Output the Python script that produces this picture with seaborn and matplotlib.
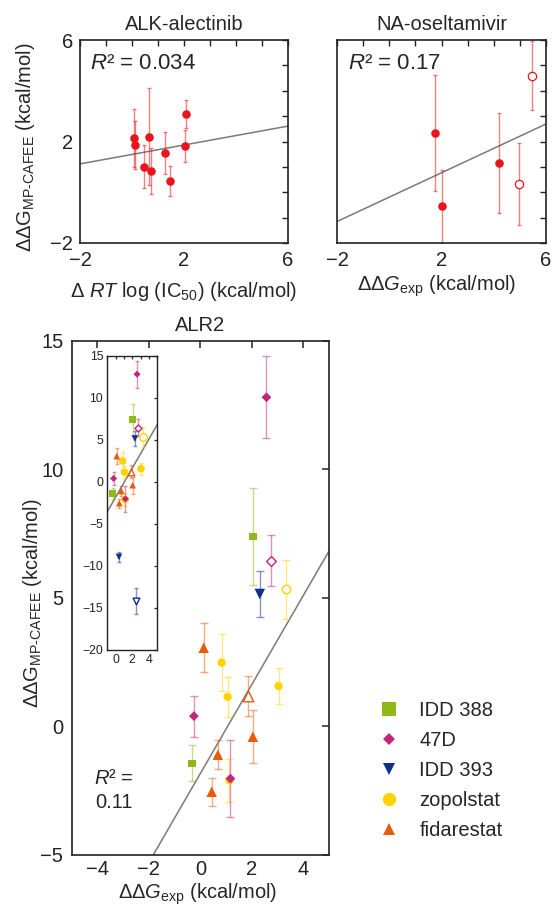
import matplotlib
matplotlib.use('Agg')
import matplotlib.pyplot as plt
from matplotlib.lines import Line2D
from matplotlib.ticker import MultipleLocator, FixedLocator
import numpy as np
import pandas as pd
import seaborn as sns

sns.set_style('white')
plt.rcParams['font.family'] = ['Liberation Sans', 'DejaVu Sans']
plt.rcParams['mathtext.fontset'] = 'custom'
plt.rcParams['mathtext.rm'] = 'Liberation Sans'
plt.rcParams['mathtext.it'] = 'Liberation Sans:italic'
plt.rcParams['mathtext.bf'] = 'Liberation Sans:bold'
plt.rcParams['axes.unicode_minus'] = True

# ── Data: ALK-alectinib ─────────────────────────────────────────────
alk_x = [0.08, 0.13, 0.47, 0.64, 0.72, 1.26, 1.46, 2.04, 2.06]
alk_y = [2.15, 1.87, 1.01, 2.19, 0.84, 1.55, 0.44, 1.83, 3.07]
alk_err = [1.15, 0.95, 0.85, 1.9, 0.9, 0.83, 0.6, 0.62, 0.55]
alk_fit = (0.186, 1.49)   # slope, intercept
alk_r2 = '0.034'

# ── Data: NA-oseltamivir ────────────────────────────────────────────
na_x = [1.75, 2.03, 4.21, 4.96, 5.49]
na_y = [2.33, -0.56, 1.15, 0.32, 4.6]
na_err = [2.28, 1.45, 1.97, 1.62, 1.37]
na_open = [False, False, False, True, True]
na_fit = (0.479, -0.19)
na_r2 = '0.17'

top_ticks = [-2, 2, 6]

# ── Data: ALR2 ──────────────────────────────────────────────────────
alr2_compound = ['IDD 388', 'IDD 388',
                 'IDD 393', 'IDD 393', 'IDD 393',
                 'zopolstat', 'zopolstat', 'zopolstat', 'zopolstat', 'zopolstat',
                 'fidarestat', 'fidarestat', 'fidarestat', 'fidarestat', 'fidarestat',
                 '47D', '47D', '47D', '47D']
alr2_exp = [2.04, -0.33,
            2.31, 0.40, 2.41,
            0.83, 1.06, 3.04, 1.13, 3.31,
            0.13, 0.68, 0.44, 2.04, 1.86,
            2.57, -0.25, 1.17, 2.73]
alr2_calc = [7.39, -1.43,
             5.15, -8.93, -14.2,
             2.48, 1.15, 1.57, -2.1, 5.33,
             3.06, -1.10, -2.54, -0.40, 1.19,
             12.80, 0.40, -2.03, 6.45]
alr2_err = [1.9, 0.7,
            0.9, 0.6, 1.55,
            1.1, 0.78, 0.7, 0.83, 1.15,
            0.95, 0.57, 0.55, 1.02, 0.79,
            1.6, 0.8, 1.5, 1.0]
alr2_open = [False, False,
             False, False, True,
             False, False, False, False, True,
             False, False, False, False, True,
             False, False, False, True]
alr2_fit = (1.73, -1.83)
alr2_r2 = '0.11'

legend_order = ['IDD 388', '47D', 'IDD 393', 'zopolstat', 'fidarestat']
draw_order = ['IDD 388', 'IDD 393', 'zopolstat', 'fidarestat', '47D']

# ── Styles ──────────────────────────────────────────────────────────
RED = '#e8161c'
LINE = '#7a7a7a'
COLORS = {'IDD 388': '#8fb81a', '47D': '#c2267a', 'IDD 393': '#0f2f8c',
          'zopolstat': '#ffd200', 'fidarestat': '#e85a0c'}
MARKERS = {'IDD 388': 's', '47D': 'D', 'IDD 393': 'v',
           'zopolstat': 'o', 'fidarestat': '^'}
MAIN_MS = {'IDD 388': 5.3, '47D': 5.0, 'IDD 393': 7.6, 'zopolstat': 6.0, 'fidarestat': 7.6}
INSET_MS = {'IDD 388': 5.0, '47D': 3.6, 'IDD 393': 4.8, 'zopolstat': 5.5, 'fidarestat': 4.8}
LEG_MS = {'IDD 388': 9.6, '47D': 6.5, 'IDD 393': 9.0, 'zopolstat': 9.6, 'fidarestat': 9.0}
FS = 14.5

df = pd.DataFrame({'compound': alr2_compound, 'exp': alr2_exp, 'calc': alr2_calc,
                   'err': alr2_err, 'open': alr2_open})

fig = plt.figure(figsize=(5.56, 9.11), dpi=100)
W, H = 556, 911


def px_axes(x0, y0, x1, y1):
    return fig.add_axes([x0 / W, 1 - y1 / H, (x1 - x0) / W, (y1 - y0) / H])


ax_alk = px_axes(80, 40, 288, 243)
ax_na = px_axes(337.3, 40, 545.7, 243)
ax_main = px_axes(71.7, 340.7, 329, 855)
ax_in = px_axes(107.3, 355.7, 157.3, 650)


def frame(ax, lw=1.2):
    for s in ax.spines.values():
        s.set_visible(True)
        s.set_color('#222222')
        s.set_linewidth(lw)


# ── Top panels ──────────────────────────────────────────────────────
def top_panel(ax, x, y, err, open_flags, fit, r2, title):
    x = np.asarray(x); y = np.asarray(y); err = np.asarray(err)
    open_flags = np.asarray(open_flags)
    ax.errorbar(x, y, yerr=err, fmt='none', ecolor=RED, alpha=0.55,
                elinewidth=1.0, capsize=1.6, capthick=1.0, zorder=2)
    sns.scatterplot(x=x[~open_flags], y=y[~open_flags], color=RED, s=38,
                    linewidth=0, ax=ax, zorder=3)
    if open_flags.any():
        ax.scatter(x[open_flags], y[open_flags], s=36, facecolor='white',
                   edgecolor=RED, linewidth=0.9, zorder=3, clip_on=False)
    ax.axline((0, fit[1]), slope=fit[0], color=LINE, lw=1.1, zorder=1)
    ax.set_xlim(-2, 6)
    ax.set_ylim(-2, 6)
    ax.xaxis.set_major_locator(FixedLocator(top_ticks))
    ax.xaxis.set_minor_locator(MultipleLocator(1))
    ax.yaxis.set_major_locator(FixedLocator(top_ticks))
    ax.yaxis.set_minor_locator(MultipleLocator(1))
    ax.tick_params(which='both', direction='in', top=True, right=True,
                   length=4, width=1, colors='#222222', labelsize=FS)
    ax.tick_params(axis='x', pad=6)
    ax.tick_params(axis='y', pad=5)
    ax.set_title(title, fontsize=FS, pad=7)
    ax.text(0.05, 0.885, '$R$² = ' + r2, transform=ax.transAxes,
            fontsize=16, ha='left', va='center')
    frame(ax)


top_panel(ax_alk, alk_x, alk_y, alk_err, [False] * len(alk_x), alk_fit, alk_r2,
          'ALK-alectinib')
top_panel(ax_na, na_x, na_y, na_err, na_open, na_fit, na_r2, 'NA-oseltamivir')
ax_na.set_yticklabels([])

ylab = r'$\Delta\Delta\mathrm{G}_{\text{MP-CAFEE}}$ (kcal/mol)'
ax_alk.set_ylabel(ylab, fontsize=FS)
ax_alk.yaxis.set_label_coords(-0.205, 0.47)
ax_alk.set_xlabel(r'$\Delta$ $RT$ log (IC$_{50}$) (kcal/mol)', fontsize=FS)
ax_alk.xaxis.set_label_coords(0.5, -0.18)
ax_na.set_xlabel(r'$\Delta\Delta G_{\mathrm{exp}}$ (kcal/mol)', fontsize=FS)
ax_na.xaxis.set_label_coords(0.477, -0.15)


# ── ALR2 panels ─────────────────────────────────────────────────────
def alr2_points(ax, ms_map, capsize):
    for comp in draw_order:
        sub = df[df['compound'] == comp]
        ax.errorbar(sub['exp'], sub['calc'], yerr=sub['err'], fmt='none',
                    ecolor=COLORS[comp], alpha=0.5, elinewidth=1.0,
                    capsize=capsize, capthick=1.0, zorder=2)
    filled = df[~df['open']]
    sns.scatterplot(data=filled, x='exp', y='calc', hue='compound', style='compound',
                    size='compound', palette=COLORS, markers=MARKERS,
                    sizes={k: v ** 2 for k, v in ms_map.items()},
                    linewidth=0, legend=False, ax=ax, zorder=3)
    for _, r in df[df['open']].iterrows():
        ax.scatter(r['exp'], r['calc'], marker=MARKERS[r['compound']],
                   s=ms_map[r['compound']] ** 2, facecolor='white',
                   edgecolor=COLORS[r['compound']], linewidth=1.0, zorder=3)
    ax.axline((0, alr2_fit[1]), slope=alr2_fit[0], color=LINE, lw=1.1, zorder=1)


alr2_points(ax_main, MAIN_MS, 2.8)
ax_main.set_xlim(-5, 5)
ax_main.set_ylim(-5, 15)
ax_main.xaxis.set_major_locator(MultipleLocator(2))
ax_main.yaxis.set_major_locator(MultipleLocator(5))
ax_main.tick_params(direction='in', top=True, right=True, length=5, width=1.1,
                    colors='#222222', labelsize=FS)
ax_main.tick_params(axis='x', pad=3.5)
ax_main.tick_params(axis='y', pad=6)
ax_main.set_title('ALR2', fontsize=FS, pad=7)
ax_main.set_xlabel(r'$\Delta\Delta G_{\mathrm{exp}}$ (kcal/mol)', fontsize=FS)
ax_main.xaxis.set_label_coords(0.49, -0.051)
ax_main.set_ylabel(ylab, fontsize=FS)
ax_main.yaxis.set_label_coords(-0.108, 0.49)
ax_main.text(0.164, 0.126, '$R$² =\n' + alr2_r2, transform=ax_main.transAxes,
             fontsize=FS, ha='center', va='center', multialignment='center',
             linespacing=1.35)
frame(ax_main)

alr2_points(ax_in, INSET_MS, 1.4)
ax_in.set_facecolor('white')
ax_in.set_xlim(-1, 5)
ax_in.set_ylim(-20, 15)
ax_in.xaxis.set_major_locator(MultipleLocator(2))
ax_in.xaxis.set_minor_locator(MultipleLocator(1))
ax_in.yaxis.set_major_locator(MultipleLocator(5))
ax_in.tick_params(which='both', direction='in', top=True, right=True, length=2.5,
                  width=0.9, colors='#222222', labelsize=8.8, pad=3)
ax_in.set_xlabel('')
ax_in.set_ylabel('')
frame(ax_in, 1.0)

# ── Legend ──────────────────────────────────────────────────────────
handles = [Line2D([], [], ls='none', marker=MARKERS[c], color=COLORS[c],
                  markeredgewidth=0, ms=LEG_MS[c]) for c in legend_order]
fig.legend(handles, legend_order, loc='upper left',
           bbox_to_anchor=(379 / W, 1 - 701 / H), frameon=False, fontsize=FS,
           handlelength=1.0, handletextpad=1.0, labelspacing=0.55,
           borderaxespad=0, borderpad=0)

fig.savefig('out.png', dpi=100)
